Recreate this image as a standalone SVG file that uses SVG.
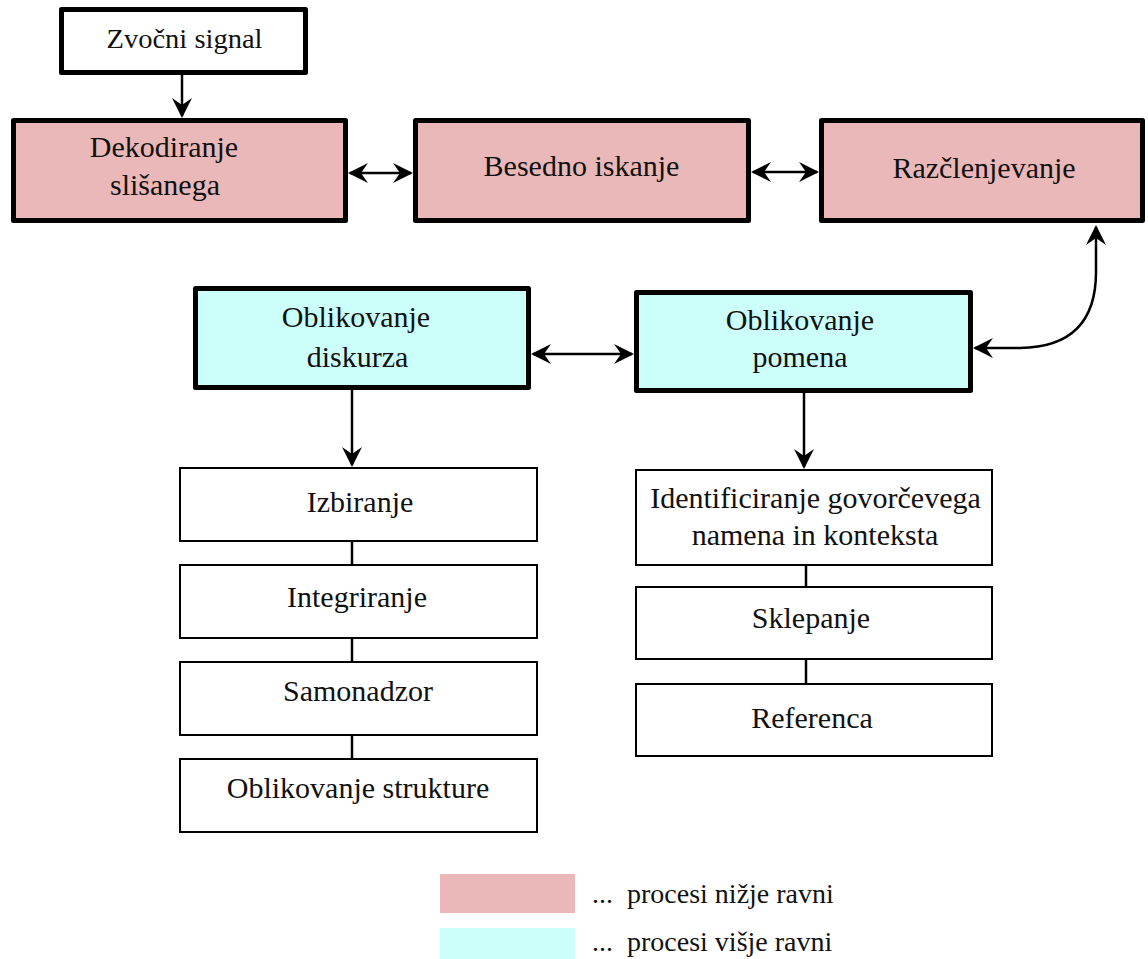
<svg xmlns="http://www.w3.org/2000/svg" width="1148" height="959" viewBox="0 0 1148 959">
  <style>
    text { font-family: 'Liberation Serif', 'Times New Roman', serif; font-size: 30px; fill: #111; text-anchor: middle; }
    .thick { stroke: #000; stroke-width: 5; stroke-linejoin: round; }
    .thin { fill: #fff; stroke: #000; stroke-width: 2; }
    .low { fill: #ebb8b9; }
    .high { fill: #ccfffa; }
    .white { fill: #fff; }
    .conn { fill: none; stroke: #000; stroke-width: 2.5; }
    .legend { text-anchor: start; font-size: 28px; }
  </style>
  <defs>
    <marker id="head" viewBox="-22 -11 24 22" markerWidth="24" markerHeight="22" refX="-2" refY="0" markerUnits="userSpaceOnUse" orient="auto-start-reverse">
      <path d="M0,0 L-20,-10 L-13,0 L-20,10 Z" fill="#000"/>
    </marker>
  </defs>

  <!-- connectors -->
  <g id="connectors">
    <path class="conn" d="M182,75 L182,116" marker-end="url(#head)"/>
    <path class="conn" d="M350,173 L411,173" marker-start="url(#head)" marker-end="url(#head)"/>
    <path class="conn" d="M753,172 L817,172" marker-start="url(#head)" marker-end="url(#head)"/>
    <path class="conn" d="M533,354 L632,354" marker-start="url(#head)" marker-end="url(#head)"/>
    <path class="conn" d="M1096,227 L1096,272 Q1096,347 1020,348 L975,348" marker-start="url(#head)" marker-end="url(#head)"/>
    <path class="conn" d="M352,390 L352,465" marker-end="url(#head)"/>
    <path class="conn" d="M804,393 L804,467" marker-end="url(#head)"/>
    <path class="conn" d="M352,541 L352,565"/>
    <path class="conn" d="M352,638 L352,662"/>
    <path class="conn" d="M352,735 L352,759"/>
    <path class="conn" d="M806,565 L806,587"/>
    <path class="conn" d="M806,659 L806,684"/>
  </g>

  <!-- lower-level processes -->
  <g id="zvocni-signal">
    <rect class="thick white" x="61.5" y="9.5" width="244" height="63"/>
    <text x="184.5" y="47.5" font-size="27" style="font-size: 27px" textLength="156" lengthAdjust="spacingAndGlyphs">Zvočni signal</text>
  </g>
  <g id="dekodiranje">
    <rect class="thick low" x="13.5" y="120.5" width="332" height="100"/>
    <text x="164" y="157">Dekodiranje</text>
    <text x="165" y="195">slišanega</text>
  </g>
  <g id="besedno-iskanje">
    <rect class="thick low" x="415.5" y="120.5" width="333" height="100"/>
    <text x="581.5" y="176">Besedno iskanje</text>
  </g>
  <g id="razclenjevanje">
    <rect class="thick low" x="821.5" y="120.5" width="321" height="100"/>
    <text x="984" y="178">Razčlenjevanje</text>
  </g>

  <!-- higher-level processes -->
  <g id="oblikovanje-diskurza">
    <rect class="thick high" x="195.5" y="288.5" width="333" height="99"/>
    <text x="356" y="327">Oblikovanje</text>
    <text x="357.5" y="367">diskurza</text>
  </g>
  <g id="oblikovanje-pomena">
    <rect class="thick high" x="636.5" y="292.5" width="334" height="98"/>
    <text x="800" y="330">Oblikovanje</text>
    <text x="800" y="367">pomena</text>
  </g>

  <!-- discourse sub-steps -->
  <g id="izbiranje">
    <rect class="thin" x="180" y="468" width="357" height="73"/>
    <text x="360" y="512">Izbiranje</text>
  </g>
  <g id="integriranje">
    <rect class="thin" x="180" y="565" width="357" height="73"/>
    <text x="357" y="607">Integriranje</text>
  </g>
  <g id="samonadzor">
    <rect class="thin" x="180" y="662" width="357" height="73"/>
    <text x="358" y="701">Samonadzor</text>
  </g>
  <g id="oblikovanje-strukture">
    <rect class="thin" x="180" y="759" width="357" height="73"/>
    <text x="358" y="798">Oblikovanje strukture</text>
  </g>

  <!-- meaning sub-steps -->
  <g id="identificiranje">
    <rect class="thin" x="636" y="470" width="356" height="95"/>
    <text x="815.5" y="508">Identificiranje govorčevega</text>
    <text x="815" y="545">namena in konteksta</text>
  </g>
  <g id="sklepanje">
    <rect class="thin" x="636" y="587" width="356" height="72"/>
    <text x="811" y="628">Sklepanje</text>
  </g>
  <g id="referenca">
    <rect class="thin" x="636" y="684" width="356" height="72"/>
    <text x="812" y="728">Referenca</text>
  </g>

  <!-- legend -->
  <g id="legend">
    <rect class="low" x="440" y="874" width="135" height="39"/>
    <text class="legend" x="592" y="903" xml:space="preserve">...  procesi nižje ravni</text>
    <rect class="high" x="440" y="928" width="135" height="31"/>
    <text class="legend" x="592" y="951" xml:space="preserve">...  procesi višje ravni</text>
  </g>
</svg>
